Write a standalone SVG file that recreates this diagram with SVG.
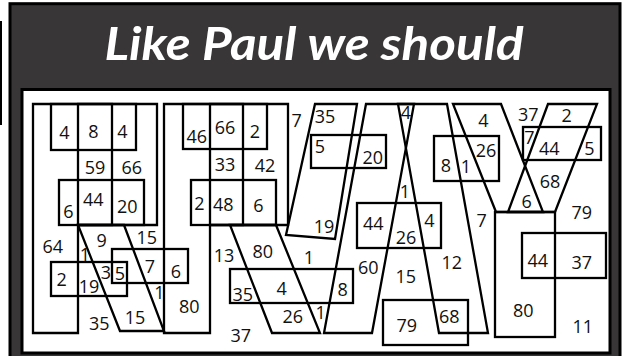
<svg xmlns="http://www.w3.org/2000/svg" width="627" height="356" viewBox="0 0 627 356">
<style>
.s{fill:none;stroke:#000;stroke-width:2.3;stroke-linejoin:miter}
.t{font-family:"Open Sans","DejaVu Sans",sans-serif;font-size:18px;fill:#111;text-anchor:middle}
</style>
<rect x="0" y="0" width="627" height="356" fill="#fff"/>
<rect x="0" y="21" width="2" height="104" fill="#000"/>
<rect x="10" y="3.7" width="610" height="400" fill="#383637" stroke="#000" stroke-width="3"/>
<text x="314" y="59.5" font-family="Lato,'Open Sans',sans-serif" font-weight="bold" font-style="italic" font-size="46" fill="#fff" text-anchor="middle" textLength="419" lengthAdjust="spacingAndGlyphs">Like Paul we should</text>
<rect x="22" y="89.5" width="588" height="263.5" fill="#fff" stroke="#000" stroke-width="3"/>

<g id="letter-P">
<path class="s" d="M33,104H157V225H78V333H33Z"/>
<rect class="s" x="78" y="104" width="34" height="121"/>
<rect class="s" x="51" y="104" width="85" height="46"/>
<rect class="s" x="59" y="180" width="85" height="45"/>
<path class="s" d="M78,225L124,225L164,331L120,331Z"/>
<rect class="s" x="51" y="262" width="76" height="34"/>
<rect class="s" x="112" y="249" width="76" height="34"/>
</g>

<g id="letter-R">
<path class="s" d="M164,104H288V225H210V333H164Z"/>
<rect class="s" x="210" y="104" width="33" height="121"/>
<rect class="s" x="183" y="104" width="84" height="45"/>
<rect class="s" x="191" y="180" width="85" height="45"/>
<path class="s" d="M230,225L276,225L320,333L272,333Z"/>
<rect class="s" x="230" y="269" width="123" height="34"/>
</g>

<g id="slab">
<path class="s" d="M315,104L357,104L335,239L286,235Z"/>
<rect class="s" x="311" y="135" width="75" height="33"/>
</g>

<g id="letter-A">
<path class="s" d="M366,104L414,104L372,333L324,333Z"/>
<path class="s" d="M398,104L447,104L488,333L439,333Z"/>
<rect class="s" x="357" y="203" width="84" height="45"/>
<rect class="s" x="383" y="300" width="85" height="45"/>
<rect class="s" x="434" y="136" width="65" height="45"/>
</g>

<g id="letter-Y">
<path class="s" d="M453,104L501,104L543,212L496,212Z"/>
<path class="s" d="M548,104L597,104L555,212L508,212Z"/>
<rect class="s" x="495" y="212" width="60" height="125"/>
<rect class="s" x="523" y="127" width="78" height="33"/>
<rect class="s" x="522" y="233" width="84" height="45"/>
</g>

<g id="connectors"></g>

<g id="labels">
<text class="t" x="64.3" y="139.3">4</text>
<text class="t" x="93.3" y="138.3">8</text>
<text class="t" x="122.3" y="138.3">4</text>
<text class="t" x="95" y="174.3">59</text>
<text class="t" x="131.7" y="174.3">66</text>
<text class="t" x="68.3" y="218.3">6</text>
<text class="t" x="93.3" y="206">44</text>
<text class="t" x="127.3" y="213.3">20</text>
<text class="t" x="52.7" y="252.7">64</text>
<text class="t" x="85" y="260.7">1</text>
<text class="t" x="101.7" y="247.3">9</text>
<text class="t" x="146.7" y="244">15</text>
<text class="t" x="61.7" y="286">2</text>
<text class="t" x="89" y="293.3">19</text>
<text class="t" x="106" y="279.3">3</text>
<text class="t" x="120" y="280">5</text>
<text class="t" x="150" y="273.3">7</text>
<text class="t" x="176" y="277.7">6</text>
<text class="t" x="159.3" y="299.3">1</text>
<text class="t" x="189.3" y="313.3">80</text>
<text class="t" x="99.3" y="330">35</text>
<text class="t" x="135" y="324">15</text>

<text class="t" x="196.7" y="143.3">46</text>
<text class="t" x="225" y="134.3">66</text>
<text class="t" x="255" y="138.3">2</text>
<text class="t" x="225" y="171">33</text>
<text class="t" x="265" y="172.3">42</text>
<text class="t" x="199.3" y="210">2</text>
<text class="t" x="223.3" y="211">48</text>
<text class="t" x="258.3" y="212.3">6</text>
<text class="t" x="296.7" y="127.3">7</text>
<text class="t" x="325" y="123.3">35</text>
<text class="t" x="320" y="153.3">5</text>
<text class="t" x="372.7" y="164">20</text>
<text class="t" x="324" y="232.7">19</text>
<text class="t" x="224" y="262.3">13</text>
<text class="t" x="262.7" y="257.7">80</text>
<text class="t" x="309" y="264">1</text>
<text class="t" x="242.7" y="301">35</text>
<text class="t" x="281.7" y="295">4</text>
<text class="t" x="342.7" y="296">8</text>
<text class="t" x="292.7" y="323.3">26</text>
<text class="t" x="320.7" y="319.3">1</text>
<text class="t" x="240.7" y="342.3">37</text>

<text class="t" x="406" y="119">4</text>
<text class="t" x="405" y="197.7">1</text>
<text class="t" x="373.3" y="230">44</text>
<text class="t" x="406" y="244.3">26</text>
<text class="t" x="429.3" y="226.7">4</text>
<text class="t" x="368.3" y="274.2">60</text>
<text class="t" x="405.7" y="282.7">15</text>
<text class="t" x="451.7" y="269">12</text>
<text class="t" x="406.7" y="332.3">79</text>
<text class="t" x="449.3" y="323.3">68</text>
<text class="t" x="481.7" y="227.3">7</text>
<text class="t" x="483.3" y="126.7">4</text>
<text class="t" x="486" y="156.7">26</text>
<text class="t" x="446" y="171.7">8</text>
<text class="t" x="466" y="172.7">1</text>

<text class="t" x="528.3" y="121">37</text>
<text class="t" x="566.7" y="121.7">2</text>
<text class="t" x="529.3" y="144.3">7</text>
<text class="t" x="549.3" y="155">44</text>
<text class="t" x="589.3" y="155">5</text>
<text class="t" x="550" y="188.3">68</text>
<text class="t" x="526.7" y="208.3">6</text>
<text class="t" x="581.7" y="219">79</text>
<text class="t" x="537.7" y="266.7">44</text>
<text class="t" x="581.7" y="269">37</text>
<text class="t" x="523.3" y="316.7">80</text>
<text class="t" x="582.7" y="333.3">11</text>
</g>
</svg>
